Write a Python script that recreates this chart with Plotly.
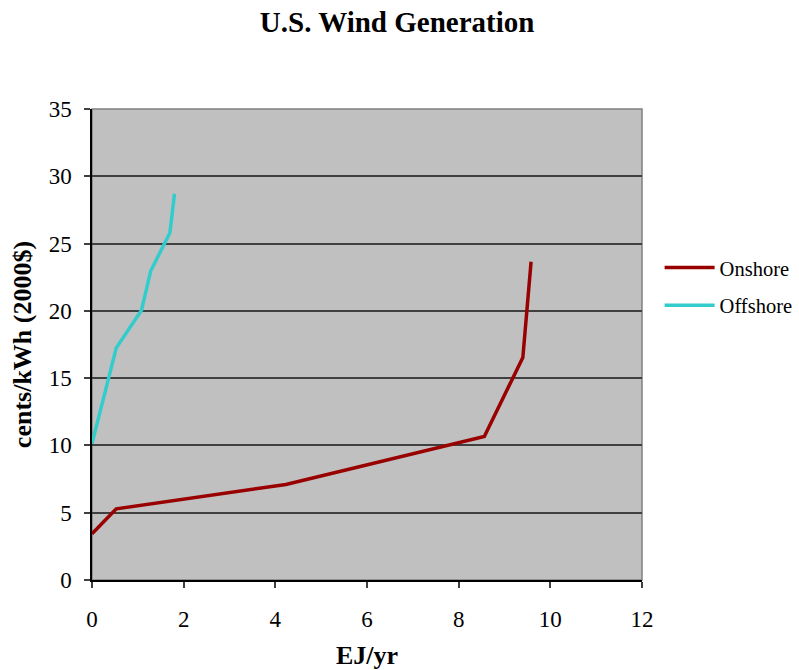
import plotly.graph_objects as go

onshore_x = [0, 0.53, 4.23, 8.56, 9.40, 9.58]
onshore_y = [3.43, 5.29, 7.1, 10.67, 16.53, 23.65]
offshore_x = [0, 0.53, 1.08, 1.28, 1.70, 1.80]
offshore_y = [10.13, 17.25, 20.05, 22.96, 25.8, 28.7]

ff = "Liberation Serif"

fig = go.Figure()
fig.add_trace(go.Scatter(x=onshore_x, y=onshore_y, mode="lines", name="Onshore",
                         line=dict(color="#990000", width=3.5), legendgroup="a"))
fig.add_trace(go.Scatter(x=offshore_x, y=offshore_y, mode="lines", name="Offshore",
                         line=dict(color="#33CCCC", width=3.5), legendgroup="b"))

fig.update_layout(
    width=799, height=670,
    margin=dict(l=92, r=157, t=109, b=90, autoexpand=False),
    paper_bgcolor="white",
    plot_bgcolor="#C0C0C0",
    font=dict(family=ff, color="black", size=22),
    title=dict(text="<b>U.S. Wind Generation</b>", x=0.497, xanchor="center",
               y=0.967, yanchor="middle", font=dict(size=29, family=ff, color="black")),
    legend=dict(x=1.032, y=0.7055, xanchor="left", yanchor="top",
                font=dict(size=20.5, family=ff, color="black"), tracegroupgap=8,
                traceorder="grouped", itemwidth=50, bgcolor="rgba(0,0,0,0)"),
    showlegend=True,
)
fig.update_xaxes(range=[0, 12], dtick=2, showgrid=False, zeroline=False, automargin=False,
                 showline=True, linecolor="black", linewidth=1.5,
                 ticks="outside", ticklen=6, tickcolor="#404040", tickwidth=1.5,
                 ticklabelstandoff=12, tickfont=dict(family=ff, size=23, color="black"),
                 title=dict(text="<b>EJ/yr</b>", font=dict(size=26, family=ff, color="black"), standoff=14))
fig.update_yaxes(range=[0, 35], dtick=5, showgrid=True, gridcolor="#404040", gridwidth=1.5,
                 zeroline=False, showline=True, linecolor="black", linewidth=1.5, automargin=False,
                 ticks="outside", ticklen=6, tickcolor="#404040", tickwidth=1.5,
                 ticklabelstandoff=8, tickfont=dict(family=ff, size=23, color="black"),
                 title=dict(text="<b>cents/kWh (2000$)</b>", font=dict(size=26, family=ff, color="black"), standoff=10))
fig.add_shape(type="rect", xref="paper", yref="paper", x0=0, y0=0, x1=1, y1=1,
              line=dict(color="#808080", width=1.5), fillcolor="rgba(0,0,0,0)", layer="below")

fig.write_html("out.html")
